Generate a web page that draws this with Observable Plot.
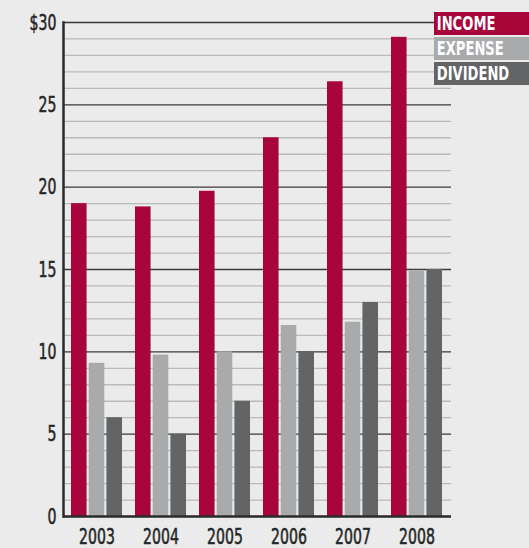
<!DOCTYPE html>
<html>
<head>
<meta charset="utf-8">
<script src="https://cdn.jsdelivr.net/npm/d3@7"></script>
<script src="https://cdn.jsdelivr.net/npm/@observablehq/plot@0.6"></script>
<style>
  html, body { margin: 0; padding: 0; background: #eaebea; }
  #wrap { position: relative; width: 529px; height: 548px; overflow: hidden; }
  #legend { position: absolute; left: 434px; top: 12px; }
  .item { width: 100px; height: 23px; margin-bottom: 2px; color: #fff; overflow: hidden;
    font-family: "DejaVu Sans", sans-serif; font-weight: bold; font-size: 19px; line-height: 23px; }
  .item span { display: inline-block; transform: scaleX(0.69); transform-origin: 0 50%; padding-left: 4px; white-space: nowrap; }
</style>
</head>
<body>
<div id="wrap"><div id="legend"></div></div>
<script>
const years = ["2003", "2004", "2005", "2006", "2007", "2008"];
const series = ["INCOME", "EXPENSE", "DIVIDEND"];
const income = [19.0, 18.8, 19.75, 23.0, 26.4, 29.1];
const expense = [9.3, 9.8, 10.0, 11.6, 11.8, 14.9];
const dividend = [6.0, 5.0, 7.0, 10.0, 13.0, 15.0];
const colors = ["#a8053a", "#a9aaac", "#636466"];
const majorTicks = [0, 5, 10, 15, 20, 25, 30];
const minorTicks = [1, 2, 3, 4, 6, 7, 8, 9, 11, 12, 13, 14, 16, 17, 18, 19, 21, 22, 23, 24, 26, 27, 28, 29];

const values = [income, expense, dividend];
const data = [];
series.forEach((s, i) => years.forEach((y, j) => data.push({year: y, series: s, value: values[i][j]})));

const W = 529, H = 548, mL = 63, mR = 78, mT = 22, mB = 32;
const pIn = 0.2, pOut = 0.1;
const step = (W - mL - mR) / (years.length - pIn + 2 * pOut);
const bw = step * (1 - pIn);
const gap = 1.4;
const barW = (bw - 2 * gap) / 3;

const barMarks = series.map((s, i) => Plot.barY(data.filter(d => d.series === s), {
  x: "year", y: "value", fill: colors[i],
  insetLeft: i * (barW + gap), insetRight: (2 - i) * (barW + gap)
}));

const chart = Plot.plot({
  width: W, height: H,
  marginLeft: mL, marginRight: mR, marginTop: mT, marginBottom: mB,
  style: {background: "transparent", fontFamily: '"DejaVu Sans", sans-serif', fontSize: "22px", color: "#262626"},
  x: {domain: years, paddingInner: pIn, paddingOuter: pOut, align: 0.5, label: null, tickSize: 0, tickPadding: 12},
  y: {domain: [0, 30], ticks: majorTicks, tickSize: 0, tickPadding: 7, label: null,
      tickFormat: d => d === 30 ? "$30" : String(d)},
  marks: [
    Plot.ruleY(minorTicks, {stroke: "#b9baba", strokeWidth: 1.3}),
    Plot.ruleY(majorTicks.filter(d => d > 0), {stroke: "#3a3a3a", strokeWidth: 1.3}),
    ...barMarks,
    Plot.ruleY([0], {stroke: "#2a2a2a", strokeWidth: 2.5}),
    Plot.frame({anchor: "left", stroke: "#2a2a2a", strokeWidth: 2.5})
  ]
});
const wrap = document.getElementById("wrap");
wrap.prepend(chart);

// condense tick label text
chart.querySelectorAll('g[aria-label$="tick label"] text').forEach(t => {
  const len = t.getComputedTextLength();
  t.setAttribute("textLength", (len * 0.64).toFixed(1));
  t.setAttribute("lengthAdjust", "spacingAndGlyphs");
  t.setAttribute("stroke", "#262626");
  t.setAttribute("stroke-width", "0.6");
});

const legend = document.getElementById("legend");
series.forEach((s, i) => {
  const d = document.createElement("div");
  d.className = "item";
  d.style.background = colors[i];
  const sp = document.createElement("span");
  sp.textContent = s;
  d.appendChild(sp);
  legend.appendChild(d);
});
</script>
</body>
</html>
